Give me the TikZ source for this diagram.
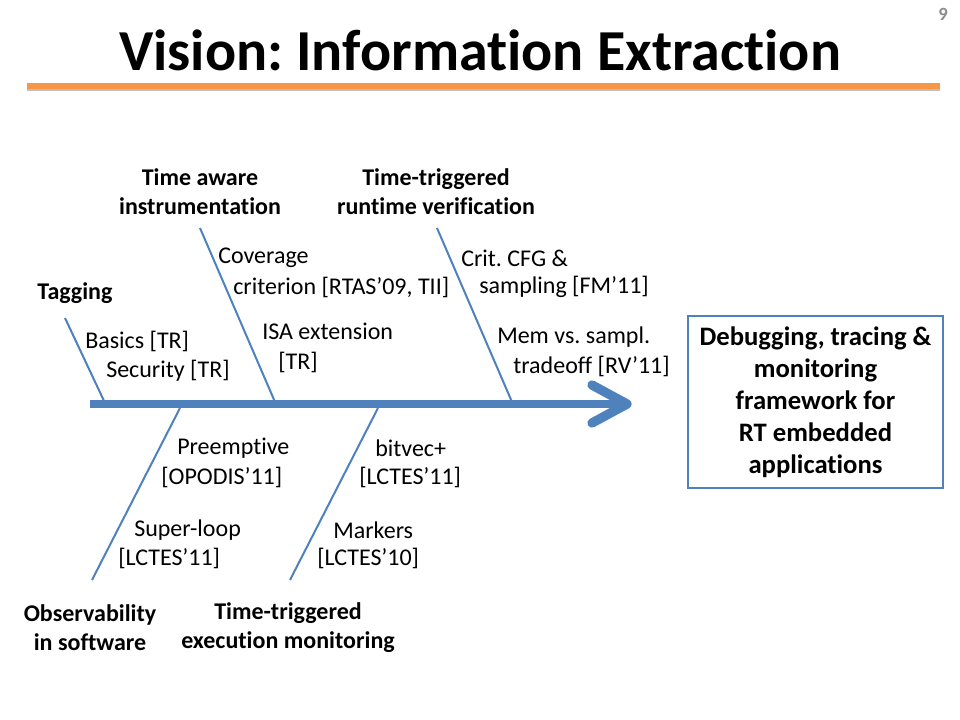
\documentclass[tikz,border=0pt]{standalone}
\usepackage{fontspec}
\setmainfont{Carlito}[Ligatures=NoCommon]
\frenchspacing
\definecolor{bone}{HTML}{4F81BD}
\definecolor{rulecol}{HTML}{F79646}
\tikzset{
  lbl/.style={font=\fontsize{18}{22}\selectfont, inner sep=0pt, anchor=west},
  hd/.style={font=\bfseries\fontsize{18}{21.75}\selectfont, align=center, inner sep=0pt},
  boneline/.style={draw=bone, line width=1.5pt},
}
\begin{document}
\begin{tikzpicture}[x=0.75pt,y=-0.75pt]
\useasboundingbox (0,0) rectangle (960,720);
% title
\node[font=\bfseries\fontsize{43.5}{50}\selectfont, inner sep=0pt] (title) at (480,50) {Vision: Information Extraction};
\node[font=\bfseries\fontsize{14}{16}\selectfont, text=black!45, inner sep=0pt] (pnum) at (943,14) {9};
\coordinate (rl) at (27,86);
\coordinate (rr) at (940,86);
\draw[black!25, line width=4pt] ([yshift=-1.5pt]rl) -- ([yshift=-1.5pt]rr);
\draw[rulecol, line width=4pt] (rl) -- (rr);

% spine
\coordinate (tail) at (90,404);
\coordinate (tip) at (627,404);
\coordinate (cu) at (592,385);
\coordinate (cd) at (592,423);
\draw[bone, line width=6pt] (tail) -- ([xshift=-3pt]tip);
\draw[bone, line width=7pt, line cap=round, line join=round] (cu) -- (tip) -- (cd);

% bones
\coordinate (b1t) at (65,318);  \coordinate (b1b) at (105,403);
\coordinate (b2t) at (200,228); \coordinate (b2b) at (275,402);
\coordinate (b3t) at (437,228); \coordinate (b3b) at (512,402);
\coordinate (b4t) at (180,408); \coordinate (b4b) at (92,580);
\coordinate (b5t) at (378,408); \coordinate (b5b) at (290,580);
\draw[boneline] (b1t) -- (b1b);
\draw[boneline] (b2t) -- (b2b);
\draw[boneline] (b3t) -- (b3b);
\draw[boneline] (b4t) -- (b4b);
\draw[boneline] (b5t) -- (b5b);

% headings
\node[hd] (hTag) at (75,293) {Tagging};
\node[hd] (hTA) at (200,191.5) {Time aware\\instrumentation};
\node[hd] (hTR) at (436,191.5) {Time-triggered\\runtime verification};
\node[hd] (hOb) at (90,627.5) {Observability\\in software};
\node[hd] (hTE) at (288,627.5) {Time-triggered\\execution monitoring};

% labels
\node[lbl] (l1) at (218,258) {Coverage};
\node[lbl] (l2) at (233,287) {criterion [RTAS’09, TII]};
\node[lbl] (l3) at (461,258) {Crit. CFG \&};
\node[lbl] (l4) at (479,287) {sampling [FM’11]};
\node[lbl] (l5) at (262,331) {ISA extension};
\node[lbl] (l6) at (278,362) {[TR]};
\node[lbl] (l7) at (85,341) {Basics [TR]};
\node[lbl] (l8) at (106,371) {Security [TR]};
\node[lbl] (l9) at (497,337) {Mem vs. sampl.};
\node[lbl] (l10) at (513,366) {tradeoff [RV’11]};
\node[lbl] (l11) at (177,448) {Preemptive};
\node[lbl] (l12) at (161,477) {[OPODIS’11]};
\node[lbl] (l13) at (375,448) {bitvec+};
\node[lbl] (l14) at (359,477) {[LCTES’11]};
\node[lbl] (l15) at (134,530) {Super-loop};
\node[lbl] (l16) at (118,558) {[LCTES’11]};
\node[lbl] (l17) at (333,530) {Markers};
\node[lbl] (l18) at (317,558) {[LCTES’10]};

% result box
\node[draw=bone, line width=1.5pt, minimum width=191.25pt, minimum height=129pt, inner sep=0pt,
      font=\bfseries\fontsize{20}{24}\selectfont, align=center] (box) at (815.5,402)
  {Debugging, tracing \&\\monitoring\\framework for\\RT embedded\\applications};
\end{tikzpicture}
\end{document}
